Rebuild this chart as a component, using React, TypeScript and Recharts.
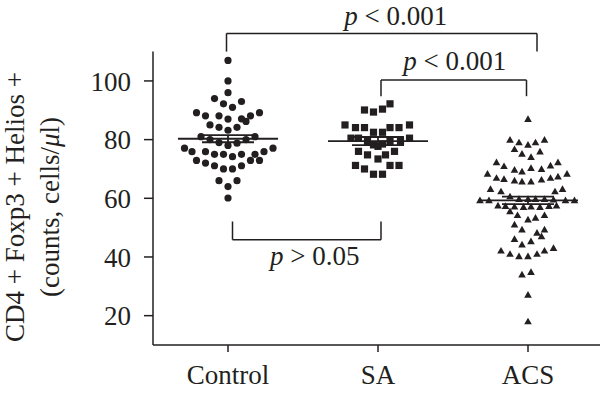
import React from 'react';
import { ScatterChart, Scatter, XAxis, YAxis, ReferenceLine, ErrorBar } from 'recharts';

const groups = ['Control', 'SA', 'ACS'];
const yTicks = [20, 40, 60, 80, 100];

// [offset from group centre in category units, value]
const controlPoints = [
  [0, 107], [0, 100], [0, 96], [-0.09, 94], [0.09, 93], [-0.03, 92.2], [0.03, 91],
  [-0.21, 89.2], [0.21, 89.2], [-0.15, 88.1], [-0.06, 88.1], [0.15, 88.1],
  [0, 87], [0.09, 87.1], [0.12, 86.2],
  [-0.12, 85], [-0.06, 84.2], [0.06, 84.2], [0, 83.2],
  [-0.18, 81], [0.18, 81], [-0.12, 80], [0.12, 80], [-0.06, 79], [0.06, 78.8], [0, 78],
  [-0.29, 77.1], [0.3, 77.1], [-0.24, 75.9], [-0.15, 75.9], [0.24, 75.9],
  [-0.09, 75], [-0.03, 75], [0.09, 75], [0.18, 75], [0.03, 74.2],
  [-0.21, 72.9], [0.15, 72.9], [0.21, 72.9], [-0.15, 72], [-0.09, 71.1], [0.09, 71.1],
  [-0.03, 70], [0.03, 70],
  [-0.06, 66], [0.06, 66], [0, 64], [0, 60.1],
];

const saPoints = [
  [0.08, 92.2], [0.03, 90.4], [-0.03, 89.4], [-0.09, 90.1],
  [-0.22, 85], [-0.15, 84.1], [-0.09, 84.1], [-0.03, 82.5], [0.03, 82.5], [0.08, 84.1], [0.14, 84.1], [0.21, 85],
  [-0.18, 80.5], [-0.13, 80.5], [-0.07, 79.4], [-0.03, 78.2], [0, 77.7], [0.03, 78.5], [0.08, 79.4], [0.15, 79.4], [0.21, 80.5],
  [-0.13, 76], [-0.07, 74.8], [0, 73.4], [0.05, 74.8], [0.11, 76],
  [-0.15, 71.2], [-0.09, 70], [-0.03, 68.2], [0.03, 68.2], [0.08, 71.2], [0.14, 71.2],
];

const acsPoints = [
  [0, 87],
  [-0.12, 79.9], [-0.06, 79], [0, 78.2], [0.05, 79], [0.11, 79.9],
  [-0.09, 76.7], [-0.04, 75.1], [0.02, 74], [0.08, 75.9],
  [-0.21, 72.2], [-0.16, 70.9], [-0.09, 69.7], [-0.04, 69.1], [0.02, 70.3], [0.09, 69.9], [0.15, 71.1], [0.2, 72.2],
  [-0.27, 68.3], [-0.21, 66.9], [-0.16, 66.5], [-0.09, 66], [-0.04, 65.7], [0.02, 65.7], [0.09, 66.3], [0.15, 66.9], [0.2, 67.4], [0.26, 68.3],
  [-0.25, 63.1], [-0.18, 62.3], [0.18, 62.3], [0.23, 63.1],
  [-0.12, 60.6],
  [-0.32, 59.3], [-0.26, 59.3], [-0.06, 59.7], [0, 59.7], [0.05, 59.7], [0.11, 59.7], [0.17, 59.5], [0.25, 59.3], [0.31, 59.3],
  [-0.2, 57.5], [-0.15, 57.3], [-0.09, 57.1], [-0.03, 57], [0.02, 57.1], [0.08, 57], [0.14, 57.3], [0.19, 57.5],
  [-0.12, 55.5], [-0.07, 54.2], [0, 52.7], [0.05, 53.3], [0.11, 54.2],
  [-0.09, 51], [-0.04, 49.3], [0.06, 48.2], [0.11, 49.3], [0.09, 47],
  [-0.09, 46.1], [-0.04, 44.2], [0.02, 45.3],
  [-0.18, 42.1], [-0.12, 41], [-0.06, 40.2], [0, 40.2], [0.06, 41], [0.11, 42.1], [0.17, 43],
  [-0.04, 34], [0.02, 34.8], [0, 27.1], [0, 18],
];

const means = [80.3, 79.5, 59.3];
const sems = [1.2, 1.4, 1.3];

// significance brackets: left x, right x, bar value, leg end value
const bracketX1 = [0.99, 2.02, 1.03];
const bracketX2 = [3.06, 2.99, 2.02];
const bracketBar = [116.2, 100.3, 45.9];
const bracketLeg = [110, 94.8, 52.1];
const bracketText = ['< 0.001', '< 0.001', '> 0.05'];

const INK = '#231f20';
const FONT = 'Liberation Serif, Times New Roman, serif';
const FS = 27;

const toData = (pts: number[][], g: number) => pts.map(([dx, v]) => ({ x: g + dx, y: v }));

const Dot = (p: any) => <circle cx={p.cx} cy={p.cy} r={3.6} fill={INK} />;
const Square = (p: any) => <rect x={p.cx - 3.6} y={p.cy - 3.6} width={7.2} height={7.2} fill={INK} />;
const Tri = (p: any) => (
  <polygon points={`${p.cx},${p.cy - 3.9} ${p.cx - 3.8},${p.cy + 2.8} ${p.cx + 3.8},${p.cy + 2.8}`} fill={INK} />
);

const pLabel = (op: string, dx: number, dy: number) => (props: any) => {
  const vb = props.viewBox;
  return (
    <text x={vb.x + vb.width / 2 + dx} y={vb.y + dy} textAnchor="middle" fontFamily={FONT} fontSize={FS} fill={INK}>
      <tspan fontStyle="italic">p</tspan>
      {' ' + op}
    </text>
  );
};
const labelOffsets = [[14, -8], [1, -10], [8, 25]];

const YLabel = () => (
  <g fontFamily={FONT} fontSize={FS} fill={INK}>
    <text x={24} y={207} transform="rotate(-90, 24, 207)" textAnchor="middle">CD4 + Foxp3 + Helios +</text>
    <text x={59} y={207} transform="rotate(-90, 59, 207)" textAnchor="middle">
      (counts, cells/<tspan fontStyle="italic">μ</tspan>l)
    </text>
  </g>
);

export default function App() {
  const meanData = means.map((m, i) => ({ x: i + 1, y: m, sem: sems[i] }));
  return (
    <div style={{ position: 'absolute', left: 0, top: 0, width: 600, height: 397, background: '#fff' }}>
      <ScatterChart width={600} height={397} margin={{ top: 51.6, right: 0, bottom: 0, left: 0 }}>
        <XAxis
          type="number"
          dataKey="x"
          domain={[0.5, 3.48]}
          ticks={[1, 2, 3]}
          tickFormatter={(v: number) => groups[v - 1]}
          allowDataOverflow
          height={52}
          tickSize={7}
          tickMargin={13}
          axisLine={{ stroke: INK, strokeWidth: 1.5 }}
          tickLine={{ stroke: INK, strokeWidth: 1.5 }}
          tick={{ fontSize: FS, fontFamily: FONT, fill: INK }}
        />
        <YAxis
          type="number"
          dataKey="y"
          domain={[10, 110]}
          ticks={yTicks}
          allowDataOverflow
          width={153}
          tickSize={9}
          tickMargin={13}
          axisLine={{ stroke: INK, strokeWidth: 1.5 }}
          tickLine={{ stroke: INK, strokeWidth: 1.5 }}
          tick={{ fontSize: FS, fontFamily: FONT, fill: INK }}
          label={<YLabel />}
        />
        <Scatter data={toData(controlPoints, 1)} shape={Dot} isAnimationActive={false} />
        <Scatter data={toData(saPoints, 2)} shape={Square} isAnimationActive={false} />
        <Scatter data={toData(acsPoints, 3)} shape={Tri} isAnimationActive={false} />
        {means.map((m, i) => (
          <ReferenceLine
            key={'m' + i}
            segment={[{ x: i + 1 - 1 / 3, y: m }, { x: i + 1 + 1 / 3, y: m }]}
            stroke={INK}
            strokeWidth={1.8}
          />
        ))}
        <Scatter data={meanData} shape={() => <g />} isAnimationActive={false}>
          <ErrorBar dataKey="sem" direction="y" width={26} stroke={INK} strokeWidth={1.8} isAnimationActive={false} />
        </Scatter>
        {bracketX1.map((x1, i) => (
          <React.Fragment key={'b' + i}>
            <ReferenceLine
              segment={[{ x: x1, y: bracketBar[i] }, { x: bracketX2[i], y: bracketBar[i] }]}
              stroke={INK}
              strokeWidth={1.5}
              ifOverflow="visible"
              label={pLabel(bracketText[i], labelOffsets[i][0], labelOffsets[i][1])}
            />
            <ReferenceLine
              segment={[{ x: x1, y: bracketBar[i] }, { x: x1, y: bracketLeg[i] }]}
              stroke={INK}
              strokeWidth={1.5}
              ifOverflow="visible"
            />
            <ReferenceLine
              segment={[{ x: bracketX2[i], y: bracketBar[i] }, { x: bracketX2[i], y: bracketLeg[i] }]}
              stroke={INK}
              strokeWidth={1.5}
              ifOverflow="visible"
            />
          </React.Fragment>
        ))}
      </ScatterChart>
    </div>
  );
}
